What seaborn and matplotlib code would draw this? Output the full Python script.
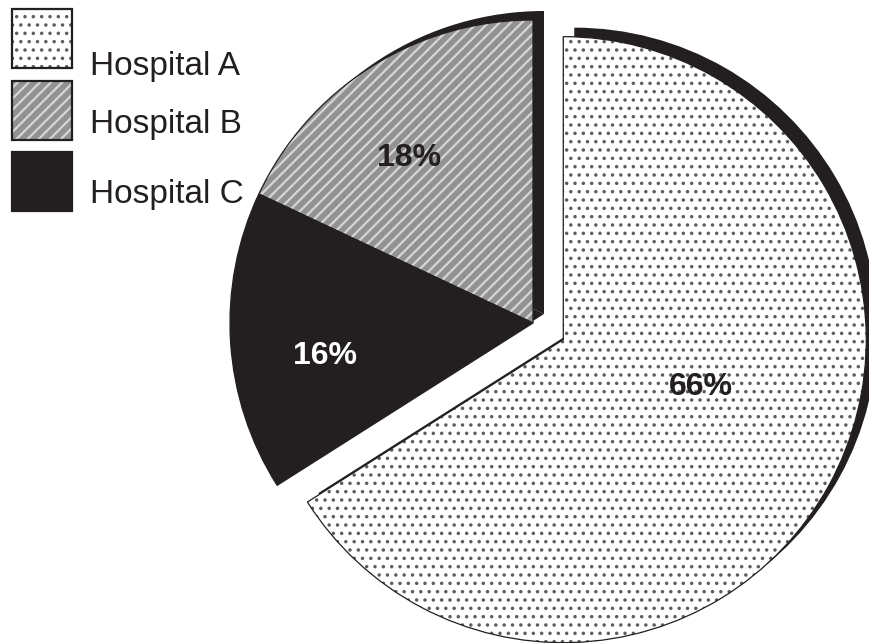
import matplotlib
matplotlib.use("Agg")
import matplotlib.pyplot as plt
import seaborn as sns
import numpy as np
from matplotlib.patches import Rectangle

# ---- data ----
categories = ["Hospital A", "Hospital B", "Hospital C"]
shares = [66, 18, 16]

# ---- style ----
sns.set_theme(style="white")
plt.rcParams['font.family'] = ['Liberation Sans', 'DejaVu Sans']

W, H = 869, 643
ink = '#231f20'
styles = {
    "Hospital A": dict(face='white', hatch='..', hcolor='#5e5e5e', hlw=1.3, txt=ink),
    "Hospital B": dict(face='#929292', hatch='///', hcolor='#d6d6d6', hlw=1.6, txt=ink),
    "Hospital C": dict(face=ink, hatch=None, hcolor=ink, hlw=1.0, txt='white'),
}
# pie drawing order (clockwise from 12 o'clock)
order = ["Hospital A", "Hospital C", "Hospital B"]
explode_map = {"Hospital A": 0.114, "Hospital B": 0.0, "Hospital C": 0.0}
# label placement (angle in degrees, radius) relative to each wedge centre
label_pos = {"Hospital A": (-19, 0.48), "Hospital B": (127, 0.68), "Hospital C": (189, 0.695)}

vals = [shares[categories.index(c)] for c in order]
expl = [explode_map[c] for c in order]

fig = plt.figure(figsize=(W / 100, H / 100), dpi=100)
ax = fig.add_axes([0, 0, 1, 1])

R_PX = 303.0
cx, cy = 533.0, 323.0  # centre in pixels (from top-left)

common = dict(explode=expl, startangle=90, counterclock=False, radius=1.0)

# shadow
ax.pie(vals, colors=[ink] * 3, center=(11 / R_PX, 9 / R_PX),
       wedgeprops=dict(linewidth=0), **common)

# filled + hatched wedges
wedges, _, autotexts = ax.pie(vals, autopct=lambda p: f"{p:.0f}%", pctdistance=0.68,
                              wedgeprops=dict(linewidth=0), **common)
for w, t, c in zip(wedges, autotexts, order):
    st = styles[c]
    w.set_facecolor(st['face'])
    w.set_edgecolor(st['hcolor'])
    w.set_linewidth(0)
    if st['hatch']:
        w.set_hatch(st['hatch'])
        if hasattr(w, 'set_hatch_linewidth'):
            w.set_hatch_linewidth(st['hlw'])
    ox, oy = w.center
    ang, rr = label_pos[c]
    a = np.deg2rad(ang)
    t.set_position((ox + rr * np.cos(a), oy + rr * np.sin(a)))
    t.set_color(st['txt'])
    t.set_fontsize(23)
    t.set_fontweight('bold')
    t.set_ha('center')
    t.set_va('center')
    t.set_zorder(10)

# outlines
ax.pie(vals, colors=['none'] * 3,
       wedgeprops=dict(edgecolor=ink, linewidth=0.9, facecolor='none'), **common)

ax.set_xlim(-cx / R_PX, (W - cx) / R_PX)
ax.set_ylim(-(H - cy) / R_PX, cy / R_PX)
ax.set_aspect('auto')
ax.axis('off')

# ---- legend (manual) ----
box_tops = [9, 81, 152]
box_h = 59
text_offsets = [55, 41, 40]
for c, top, toff in zip(categories, box_tops, text_offsets):
    st = styles[c]
    x0, w_ = 12, 60
    rect_fill = Rectangle((x0 / W, 1 - (top + box_h) / H), w_ / W, box_h / H,
                          transform=fig.transFigure, facecolor=st['face'],
                          edgecolor=st['hcolor'], linewidth=0, hatch=st['hatch'])
    if st['hatch'] and hasattr(rect_fill, 'set_hatch_linewidth'):
        rect_fill.set_hatch_linewidth(st['hlw'])
    fig.patches.append(rect_fill)
    rect_edge = Rectangle((x0 / W, 1 - (top + box_h) / H), w_ / W, box_h / H,
                          transform=fig.transFigure, facecolor='none',
                          edgecolor=ink, linewidth=1.6)
    fig.patches.append(rect_edge)
    fig.text(90 / W, 1 - (top + toff + 2) / H, c, fontsize=24, color=ink,
             ha='left', va='center')

fig.savefig("out.png", dpi=100)
